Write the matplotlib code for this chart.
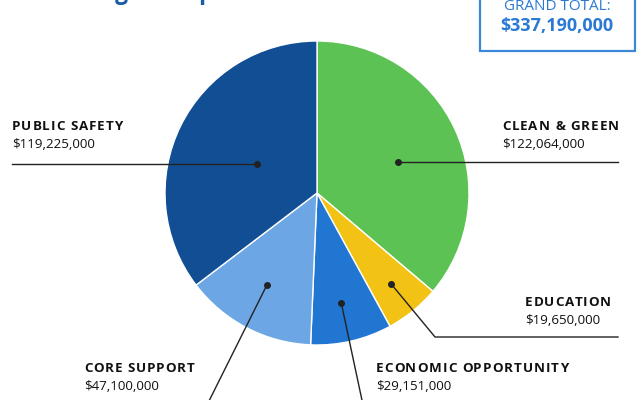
import matplotlib.pyplot as plt
import numpy as np
from matplotlib.patches import Rectangle

plt.rcParams['font.family'] = ['Open Sans', 'DejaVu Sans']

categories = ['CLEAN & GREEN', 'EDUCATION', 'ECONOMIC OPPORTUNITY', 'CORE SUPPORT', 'PUBLIC SAFETY']
values = [122064000, 19650000, 29151000, 47100000, 119225000]
colors = ['#5bc253', '#f2c314', '#2176d2', '#6ca6e4', '#124e93']
grand_total = sum(values)

fig = plt.figure(figsize=(6.38, 4.0), dpi=100)
ax = fig.add_axes([0, 0, 1, 1])

cx, cy, R = 317, 193, 152
wedges, _ = ax.pie(values, colors=colors, startangle=-90, counterclock=True,
                   center=(cx, cy), radius=R, frame=True,
                   wedgeprops=dict(edgecolor='white', linewidth=1))
ax.set_xlim(0, 638)
ax.set_ylim(400, 0)
ax.set_aspect('equal')
ax.axis('off')

renderer = fig.canvas.get_renderer()


def text_w(s, **kw):
    t = ax.text(0, 0, s, **kw)
    w = t.get_window_extent(renderer).width
    t.remove()
    return w


def spaced_text(x, y, s, spacing, **kw):
    ref = text_w('X', **kw)
    for i, ch in enumerate(s):
        if ch == ' ':
            continue
        off = text_w(s[:i] + 'X', **kw) - ref if i else 0
        ax.text(x + off + i * spacing, y, ch, ha='left', **kw)


# dot radius (fraction of R), angle offset (deg), label anchor
dot_r = [0.57, 0.77, 0.74, 0.69, 0.44]
dot_da = [3.8, 0, 0.7, 1.0, -0.9]
label_xy = [(502, 127), (525, 303), (376, 368), (84, 368), (12, 127)]

dots = []
for w, fr, da in zip(wedges, dot_r, dot_da):
    a = np.deg2rad((w.theta1 + w.theta2) / 2 + da)
    dots.append((cx + fr * R * np.cos(a), cy + fr * R * np.sin(a)))

lc = '#222222'
# clean & green
ax.plot([dots[0][0], 618], [dots[0][1]] * 2, color=lc, lw=1)
# education
ax.plot([dots[1][0], 435, 618], [dots[1][1], 337, 337], color=lc, lw=1)
# economic opportunity
ax.plot([dots[2][0], 363], [dots[2][1], 405], color=lc, lw=1)
# core support
ax.plot([dots[3][0], 207], [dots[3][1], 405], color=lc, lw=1)
# public safety
ax.plot([12, dots[4][0]], [dots[4][1]] * 2, color=lc, lw=1)
for d in dots:
    ax.plot(d[0], d[1], 'o', color=lc, ms=4)

for name, val, (lx, ly) in zip(categories, values, label_xy):
    spaced_text(lx, ly, name, 0.95, fontsize=9.6, fontweight='bold',
                color='#111111', va='center')
    ax.text(lx, ly + 18, '${:,}'.format(val), fontsize=9.6, color='#111111',
            ha='left', va='center')

# grand total box
ax.add_patch(Rectangle((480, -10), 155, 61, fill=False, edgecolor='#3d87d8', lw=1.6))
ax.text(557, 6, 'GRAND TOTAL:', fontsize=11, color='#2a7ad4', ha='center', va='center')
ax.text(557, 26, '${:,}'.format(grand_total), fontsize=13, fontweight='bold',
        color='#2a7ad4', ha='center', va='center')

# title (cut off at top)
ax.text(12, -1, '2025 Budget Snapshot', fontsize=16.5, fontweight='bold',
        color='#1a5ba8', ha='left', va='baseline')

fig.savefig('out.png', dpi=100)
